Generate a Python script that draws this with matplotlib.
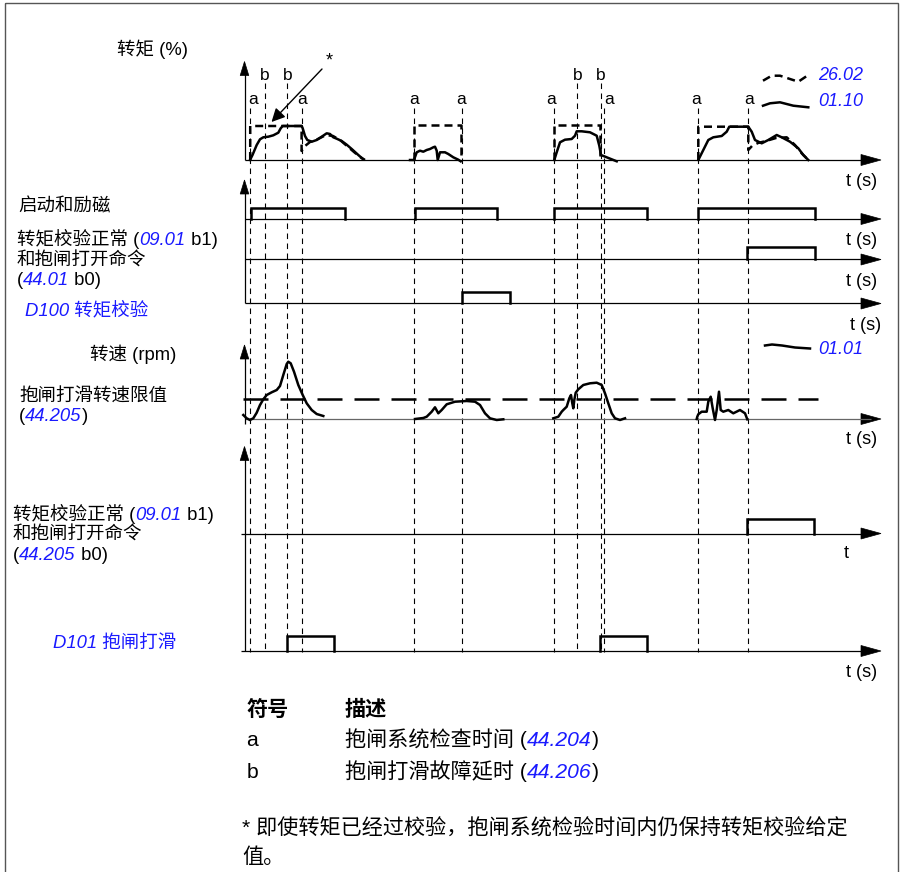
import matplotlib
matplotlib.use('Agg')
import matplotlib.pyplot as plt
from matplotlib.patches import Polygon, Rectangle

plt.rcParams['font.family'] = ['Liberation Sans', 'Noto Sans CJK SC']

# ---------------- data ----------------
# event times (time axis, arbitrary units)
a_times = [250.2, 301.6, 414.0, 461.6, 554.2, 603.9, 698.3, 748.3]
b_times = [264.5, 287.3, 577.0, 600.5]

# torque actual (01.10), four cycles
torque_t1 = [250, 252.5, 256.7, 260, 263.3, 268.3, 273.3, 278.3, 280.7, 282.7, 301.7, 302.7, 305, 307.3, 311.7, 316.7, 321.7, 326.7, 330, 333.3, 336.7, 341.7, 346.7, 351.7, 358.3, 363.3]
torque_v1 = [0, 5, 15, 20.7, 22.7, 23.3, 24.7, 27.3, 31.7, 34, 34, 31.7, 24, 20, 18.3, 20, 23.3, 26.7, 26, 22.7, 21.3, 19, 15.3, 11, 5, 0.7]
torque_t2 = [410, 414, 416.7, 420, 423.3, 426.7, 430, 433.3, 435, 436.7, 437.7, 440, 445, 448.3, 453.3, 458.3, 460.7]
torque_v2 = [0, 0, 7.7, 9.3, 8.3, 10, 11, 12.7, 13.3, 9.3, 0, 7.7, 7.7, 6, 2.7, 0.3, -1.3]
torque_t3 = [554.3, 556.7, 560, 565, 571.7, 575, 576.7, 581.7, 590, 596.7, 599.3, 601, 606.7, 616.7]
torque_v3 = [0, 7.7, 17.7, 20.3, 21, 24.3, 28.7, 28.7, 27.7, 24.3, 14.3, 5, 2.7, -1.3]
torque_t4 = [698.3, 703.3, 708.3, 713.3, 721.7, 726.7, 729.3, 748.3, 751.7, 755, 761.7, 768.3, 776.7, 781.7, 790, 798.3, 803.3, 808.3]
torque_v4 = [0, 10, 20, 22.7, 24, 28.3, 33.3, 33.3, 28.3, 20, 16.7, 20, 25, 22.7, 18.3, 11.7, 5, 0]

# torque reference (26.02), four cycles
torque_ref_t1 = [250.2, 250.2, 301.6, 301.6, 305, 310, 318, 326, 333, 340, 347, 354, 360, 365]
torque_ref_v1 = [0, 34, 34, 9, 14, 18, 21, 25, 24, 20, 14, 8, 3, 0]
torque_ref_t2 = [414, 414, 461.2, 461.2]
torque_ref_v2 = [0, 34.5, 34.5, 0]
torque_ref_t3 = [554.3, 554.3, 600, 600]
torque_ref_v3 = [0, 34.5, 34.5, 0]
torque_ref_t4 = [698.3, 698.3, 748.3, 748.3, 752, 758, 766, 776, 786.7, 795, 801.7, 808.3]
torque_ref_v4 = [0, 33.3, 33.3, 10, 14, 17, 19, 22, 22.7, 15, 6.7, 0]

# speed (01.01), four cycles
speed_t1 = [243.3, 246.7, 250, 253.3, 256.7, 260, 263.3, 266.7, 271.7, 276.7, 280, 283.3, 286.7, 288.3, 290.7, 294, 298.3, 302.7, 306.7, 311.7, 316.7, 323.3]
speed_v1 = [4, 0.7, -1, 0.7, 6.3, 14, 19.7, 24, 26.7, 29, 33, 44, 55, 57.3, 55.7, 47.3, 34, 24, 15.7, 9, 5, 3]
speed_t2 = [415, 423.3, 426.7, 431.7, 435, 438.3, 441.7, 446.7, 455, 466.7, 475, 480, 485, 490, 496.7, 503.3]
speed_v2 = [0, 1, 2.3, 7.3, 11.7, 5.7, 9, 14.7, 17.3, 18, 17.3, 14, 5.7, 0.7, -1, -0.3]
speed_t3 = [553.3, 558.3, 561.7, 563.3, 566.7, 569.3, 571, 572.3, 573.3, 574.3, 575.7, 578.3, 583.3, 590, 596.7, 601.7, 605, 608.3, 611.7, 615, 620, 625]
speed_v3 = [0.7, 2.3, 7.3, 9, 12.3, 20.7, 24, 15.7, 10.7, 19, 26.3, 29.7, 34, 35.7, 36.3, 34, 25.7, 15.7, 5.7, 0.7, -1, 0.7]
speed_t4 = [696.7, 697.3, 698.3, 701.7, 706.7, 708.3, 710.7, 712.7, 715, 716.7, 719, 720.7, 723.3, 728.3, 733.3, 740, 745, 747.3]
speed_v4 = [0, 2.3, 4.7, 7.3, 7.3, 17.3, 22.3, 10.7, -1, 9, 27.3, 9, 7.3, 9, 5.7, 9, 5.7, -0.3]
speed_limit = 19.7
speed_limit_span = [243, 818]

# digital signals (on / off times)
start_mag_on = [251, 415, 554, 698]
start_mag_off = [344.5, 497, 647, 814.5]
torque_ok_on = [747]
torque_ok_off = [814.5]
d100_on = [461.6]
d100_off = [510]
torque_ok2_on = [747]
torque_ok2_off = [814.4]
d101_on = [287.3, 599.7]
d101_off = [333.6, 646.8]

# legend sample traces
leg_ref_t = [763, 771.7, 780, 790, 798.3, 808.3]
leg_ref_v = [-1.7, 3.3, 3.3, 0, -2.7, 4]
leg_act_t = [763, 770, 780, 793.3, 808.3]
leg_act_v = [-0.7, 1.7, 2.7, -0.7, -2.3]
leg_spd_t = [765, 772, 782, 795, 810]
leg_spd_v = [1.5, 2.5, 1.5, -0.5, -1.5]

# ---------------- figure ----------------
W, H = 902, 872
fig = plt.figure(figsize=(W / 100, H / 100), dpi=100)
ax = fig.add_axes([0, 0, 1, 1])
ax.set_xlim(0, W)
ax.set_ylim(H, 0)
ax.axis('off')

BLUE = '#1a1aff'
CURVE_LW = 1.8
AX_LW = 0.9
X0 = 244.5
XTIP = 881

# frame
ax.add_patch(Rectangle((4.5, 3.5), 893, 880, fill=False, lw=1.0, ec='#555555'))


def harrow(y, x0=X0, color='k'):
    ax.plot([x0, XTIP - 10], [y, y], color=color, lw=AX_LW, solid_capstyle='butt')
    ax.add_patch(Polygon([[XTIP, y], [XTIP - 20, y - 5.5], [XTIP - 20, y + 5.5]], closed=True, fc='k', ec='k', lw=0.5))


def varrow(ytop, ybot, x=X0):
    ax.plot([x, x], [ybot, ytop + 8], color='k', lw=AX_LW, solid_capstyle='butt')
    ax.add_patch(Polygon([[x, ytop], [x - 4.3, ytop + 14], [x + 4.3, ytop + 14]], closed=True, fc='k', ec='k', lw=0.5))


def trace(ts, vs, base, **kw):
    ax.plot(ts, [base - v for v in vs], **kw)


def pulses(ons, offs, base, h):
    for t0, t1 in zip(ons, offs):
        ax.plot([t0, t0, t1, t1], [base, base - h, base - h, base], color='k', lw=CURVE_LW,
                solid_joinstyle='miter')


# --- dashed vertical event lines ---
for t in a_times:
    ax.plot([t, t], [108, 652], color='k', lw=0.8, dashes=(5, 4))
for t in b_times:
    ax.plot([t, t], [83, 652], color='k', lw=0.8, dashes=(5, 4))
a_label_dx = [3, 0.5, 0, -0.5, -3, 5, -2, 0.5]
for t, dx in zip(a_times, a_label_dx):
    ax.text(t + dx, 100, 'a', fontsize=12.5, ha='center', va='center')
for t in b_times:
    ax.text(t + 0.5, 75, 'b', fontsize=12.5, ha='center', va='center')

# --- torque row ---
TQ_BASE = 160
harrow(TQ_BASE)
varrow(61.5, TQ_BASE)
for ts, vs in [(torque_t1, torque_v1), (torque_t2, torque_v2), (torque_t3, torque_v3), (torque_t4, torque_v4)]:
    trace(ts, vs, TQ_BASE, color='k', lw=CURVE_LW, solid_joinstyle='round')
for ts, vs in [(torque_ref_t1, torque_ref_v1), (torque_ref_t2, torque_ref_v2),
               (torque_ref_t3, torque_ref_v3), (torque_ref_t4, torque_ref_v4)]:
    trace(ts, vs, TQ_BASE, color='k', lw=CURVE_LW, dashes=(3.2, 2.0))
ax.text(862, 182, 't (s)', fontsize=13, ha='center', va='center')

# legend samples
trace(leg_ref_t, leg_ref_v, 79, color='k', lw=CURVE_LW, dashes=(3.2, 2.0))
trace(leg_act_t, leg_act_v, 105, color='k', lw=CURVE_LW)
ax.text(818, 75, '26.02', fontsize=13, color=BLUE, style='italic', ha='left', va='center')
ax.text(818, 101, '01.10', fontsize=13, color=BLUE, style='italic', ha='left', va='center')

# star annotation
ax.annotate('', xy=(271.5, 122), xytext=(322, 69),
            arrowprops=dict(arrowstyle='-|>', lw=1.0, color='k', mutation_scale=20,
                            shrinkA=0, shrinkB=0))
ax.text(329, 61, '*', fontsize=13, ha='center', va='center')

# --- digital rows 2-4 ---
R2, R3, R4 = 219, 259.5, 303.5
varrow(180, R4)
harrow(R2)
harrow(R3)
harrow(R4)
pulses(start_mag_on, start_mag_off, R2, 10.5)
pulses(torque_ok_on, torque_ok_off, R3, 12)
pulses(d100_on, d100_off, R4, 11)
ax.text(862, 240, 't (s)', fontsize=13, ha='center', va='center')
ax.text(862, 281, 't (s)', fontsize=13, ha='center', va='center')
ax.text(866, 325, 't (s)', fontsize=13, ha='center', va='center')

# --- speed row ---
SP_BASE = 419
harrow(SP_BASE, color='#666666')
varrow(345, 424)
ax.plot(speed_limit_span, [SP_BASE - speed_limit] * 2, color='k', lw=CURVE_LW, dashes=(10, 4.8))
for ts, vs in [(speed_t1, speed_v1), (speed_t2, speed_v2), (speed_t3, speed_v3), (speed_t4, speed_v4)]:
    trace(ts, vs, SP_BASE, color='k', lw=CURVE_LW, solid_joinstyle='round')
trace(leg_spd_t, leg_spd_v, 347, color='k', lw=CURVE_LW)
ax.text(818, 349, '01.01', fontsize=13, color=BLUE, style='italic', ha='left', va='center')
ax.text(862, 439, 't (s)', fontsize=13, ha='center', va='center')

# --- digital rows 6-7 ---
R6, R7 = 533.5, 651
varrow(446.5, R7)
harrow(R6, x0=241)
harrow(R7, x0=241)
pulses(torque_ok2_on, torque_ok2_off, R6, 14.3)
pulses(d101_on, d101_off, R7, 15)
ax.text(846, 553, 't', fontsize=13, ha='center', va='center')
ax.text(862, 672, 't (s)', fontsize=13, ha='center', va='center')

# ---------------- texts ----------------
renderer = fig.canvas.get_renderer()


def rich(x, y, segs, size=13.3):
    base = y + 0.36 * size * 100 / 72
    for seg in segs:
        s = seg[0]
        color = seg[1] if len(seg) > 1 else 'k'
        style = seg[2] if len(seg) > 2 else 'normal'
        weight = seg[3] if len(seg) > 3 else 'normal'
        t = ax.text(x, base, s, fontsize=size, color=color, style=style, weight=weight,
                    ha='left', va='baseline')
        x += t.get_window_extent(renderer=renderer).width


rich(117, 48, [('转矩 (%)',)])
rich(18, 205, [('启动和励磁',)])
rich(17, 238.5, [('转矩校验正常 (',), ('09.01', BLUE, 'italic'), (' b1)',)])
rich(17, 258.5, [('和抱闸打开命令',)])
rich(17, 278.5, [('(',), ('44.01', BLUE, 'italic'), (' b0)',)])
rich(25, 308.5, [('D100 转矩校验', BLUE, 'italic')])
rich(90, 353, [('转速 (rpm)',)])
rich(19, 395, [('抱闸打滑转速限值',)])
rich(19, 414, [('(',), ('44.205', BLUE, 'italic'), (')',)])
rich(13, 513, [('转矩校验正常 (',), ('09.01', BLUE, 'italic'), (' b1)',)])
rich(13, 533, [('和抱闸打开命令',)])
rich(13, 553, [('(',), ('44.205', BLUE, 'italic'), (' b0)',)])
rich(53, 641, [('D101 抱闸打滑', BLUE, 'italic')])

LS = 15.2
rich(246.5, 708.5, [('符号', 'k', 'normal', 'bold')], size=LS)
rich(345, 708.5, [('描述', 'k', 'normal', 'bold')], size=LS)
rich(246.5, 738, [('a',)], size=LS)
rich(345, 738, [('抱闸系统检查时间 (',), ('44.204', BLUE, 'italic'), (')',)], size=LS)
rich(246.5, 770, [('b',)], size=LS)
rich(345, 770, [('抱闸打滑故障延时 (',), ('44.206', BLUE, 'italic'), (')',)], size=LS)
rich(242, 826.5, [('* 即使转矩已经过校验，抱闸系统检验时间内仍保持转矩校验给定',)], size=LS)
rich(242, 855, [('值。',)], size=LS)

fig.savefig('out.png', dpi=100)
